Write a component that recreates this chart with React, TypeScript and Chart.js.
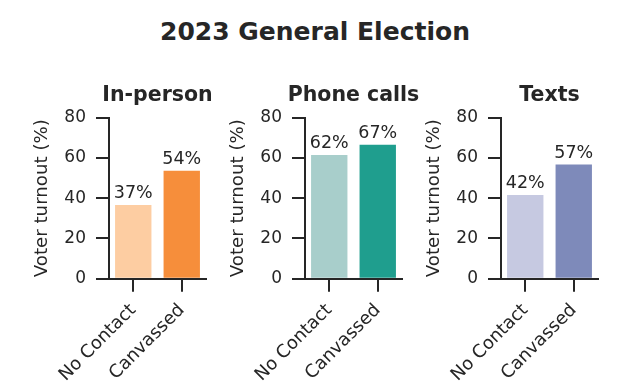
import React, { useEffect, useRef } from "react";
import { Chart, registerables } from "chart.js";

Chart.register(...registerables);

const mainTitle = "2023 General Election";
const categories = ["No Contact", "Canvassed"];
const panelTitles = ["In-person", "Phone calls", "Texts"];
const inPersonValues = [36.6, 53.7];
const phoneValues = [61.5, 66.5];
const textValues = [41.6, 56.7];
const yTickValues = [0, 20, 40, 60, 80];
const yAxisTitle = "Voter turnout (%)";

const panelValues = [inPersonValues, phoneValues, textValues];
const panelColors = [
  ["#fdcda2", "#f68e3b"],
  ["#a8cecb", "#1f9e8e"],
  ["#c6c9e1", "#7e8aba"],
];
const panelLefts = [0, 196, 392];
const CANVAS_W = 232;

const INK = "#262626";
const FONT = '"DejaVu Sans"';

const valueLabelPlugin = {
  id: "valueLabels",
  afterDatasetsDraw(chart: any) {
    const ctx = chart.ctx;
    const meta = chart.getDatasetMeta(0);
    const data = chart.data.datasets[0].data;
    ctx.save();
    ctx.font = `17.5px ${FONT}`;
    ctx.fillStyle = INK;
    ctx.textAlign = "center";
    ctx.textBaseline = "alphabetic";
    meta.data.forEach((bar: any, i: number) => {
      ctx.fillText(`${Math.round(data[i])}%`, bar.x, bar.y - 7);
    });
    ctx.restore();
  },
};

const panelTitlePlugin = {
  id: "panelTitle",
  afterDraw(chart: any, _args: any, opts: any) {
    const ctx = chart.ctx;
    const area = chart.chartArea;
    ctx.save();
    ctx.font = `bold 20.5px ${FONT}`;
    ctx.fillStyle = INK;
    ctx.textAlign = "center";
    ctx.textBaseline = "alphabetic";
    ctx.fillText(opts.text, (area.left + area.right) / 2, 100.5);
    ctx.restore();
  },
};

function Panel({ idx }: { idx: number }) {
  const ref = useRef<HTMLCanvasElement>(null);
  useEffect(() => {
    if (!ref.current) return;
    const chart = new Chart(ref.current, {
      type: "bar",
      data: {
        labels: categories,
        datasets: [
          {
            data: panelValues[idx],
            backgroundColor: panelColors[idx],
            borderWidth: 0,
            categoryPercentage: 1.0,
            barPercentage: 0.75,
          },
        ],
      },
      options: {
        responsive: false,
        animation: false,
        layout: { padding: { left: 0, right: CANVAS_W - 109 - 97, top: 117.7, bottom: 0 } },
        plugins: {
          legend: { display: false },
          tooltip: { enabled: false },
          title: { display: false },
          panelTitle: { text: panelTitles[idx] },
        } as any,
        scales: {
          x: {
            offset: true,
            afterFit: (s: any) => {
              s.height = 110.3;
            },
            grid: {
              display: true,
              offset: false,
              drawOnChartArea: false,
              drawTicks: true,
              tickLength: 13,
              tickWidth: 2,
              tickColor: INK,
              color: INK,
              lineWidth: 2,
            },
            border: { display: true, color: INK, width: 2 },
            ticks: {
              autoSkip: false,
              maxRotation: 45,
              minRotation: 45,
              padding: 8,
              color: INK,
              font: { family: FONT, size: 18 },
            },
          },
          y: {
            min: 0,
            max: 80,
            afterFit: (s: any) => {
              s.width = 109;
            },
            afterBuildTicks: (s: any) => {
              s.ticks = yTickValues.map((v) => ({ value: v }));
            },
            grid: {
              display: true,
              drawOnChartArea: false,
              drawTicks: true,
              tickLength: 13,
              tickWidth: 2,
              tickColor: INK,
              color: INK,
              lineWidth: 2,
            },
            border: { display: true, color: INK, width: 2 },
            ticks: {
              padding: 10,
              color: INK,
              font: { family: FONT, size: 17 },
            },
            title: {
              display: true,
              text: yAxisTitle,
              color: INK,
              font: { family: FONT, size: 18.2 },
              padding: { top: 31.2, bottom: 0 },
            },
          },
        },
      },
      plugins: [valueLabelPlugin, panelTitlePlugin],
    });
    return () => chart.destroy();
  }, [idx]);
  return (
    <canvas
      ref={ref}
      width={CANVAS_W}
      height={389}
      style={{ position: "absolute", left: panelLefts[idx], top: 0, width: CANVAS_W, height: 389 }}
    />
  );
}

export default function App() {
  return (
    <div
      style={{
        position: "fixed",
        left: 0,
        top: 0,
        width: 625,
        height: 389,
        background: "#ffffff",
        overflow: "hidden",
      }}
    >
      <div
        style={{
          position: "absolute",
          left: 0,
          top: 19,
          width: 630,
          textAlign: "center",
          fontFamily: FONT,
          fontWeight: "bold",
          fontSize: 25,
          lineHeight: "25px",
          color: INK,
        }}
      >
        {mainTitle}
      </div>
      {[0, 1, 2].map((i) => (
        <Panel key={i} idx={i} />
      ))}
    </div>
  );
}
